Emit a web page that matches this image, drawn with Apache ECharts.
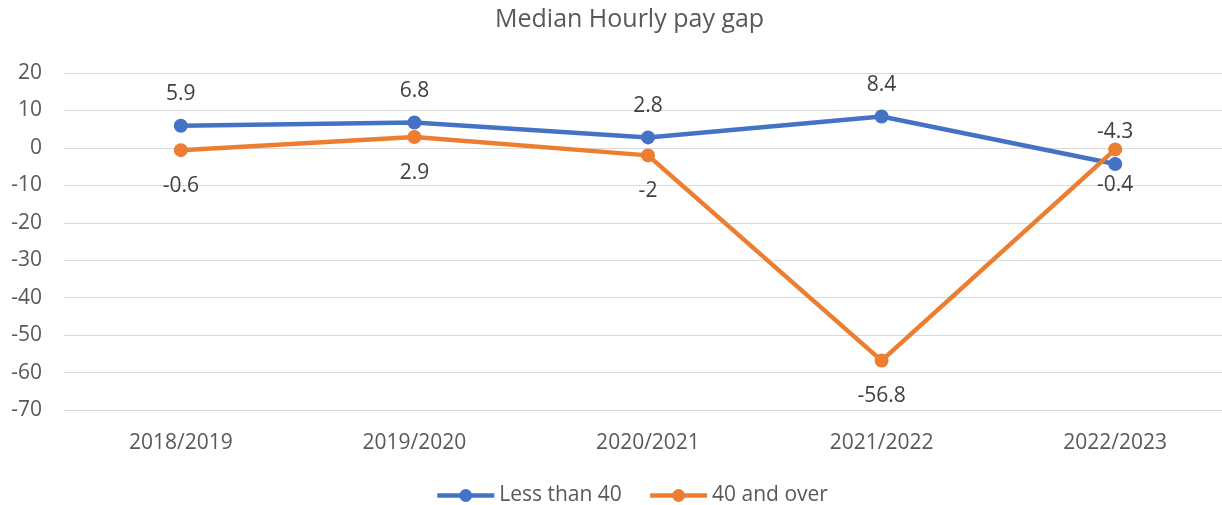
<!DOCTYPE html>
<html>
<head>
<meta charset="utf-8">
<script src="https://cdn.jsdelivr.net/npm/echarts@6/dist/echarts.min.js"></script>
<style>
  html, body { margin: 0; padding: 0; background: #fff; }
  #chart { width: 1222px; height: 505px; }
</style>
</head>
<body>
<div id="chart"></div>
<script>
var years = ["2018/2019", "2019/2020", "2020/2021", "2021/2022", "2022/2023"];
var lessThan40 = [5.9, 6.8, 2.8, 8.4, -4.3];
var fortyAndOver = [-0.6, 2.9, -2, -56.8, -0.4];

var chart = echarts.init(document.getElementById("chart"));
var font = "'Open Sans', sans-serif";

var option = {
  backgroundColor: "#fff",
  animation: false,
  title: {
    text: "Median Hourly pay gap",
    left: 490,
    top: 2,
    textStyle: { color: "#595959", fontSize: 25, fontWeight: "normal", fontFamily: font }
  },
  legend: {
    top: 480,
    left: 430,
    itemWidth: 57,
    itemHeight: 16,
    itemGap: 26,
    lineStyle: { width: 4.5 },
    textStyle: { color: "#595959", fontSize: 21, fontFamily: font },
    data: ["Less than 40", "40 and over"]
  },
  grid: { left: 64, width: 1168, top: 73, height: 337, outerBoundsMode: "none" },
  xAxis: {
    type: "category",
    data: years,
    boundaryGap: true,
    axisLine: { lineStyle: { color: "#d9d9d9", width: 1 } },
    axisTick: { show: false },
    axisLabel: { color: "#595959", fontSize: 21, fontFamily: font, margin: 23 }
  },
  yAxis: {
    type: "value",
    min: -70,
    max: 20,
    interval: 10,
    axisLine: { show: false },
    axisTick: { show: false },
    splitLine: { lineStyle: { color: "#d9d9d9", width: 1 } },
    axisLabel: { color: "#595959", fontSize: 21, fontFamily: font, margin: 22 }
  },
  series: [
    {
      name: "Less than 40",
      type: "line",
      data: lessThan40,
      color: "#4472c4",
      symbol: "circle",
      symbolSize: 14,
      lineStyle: { width: 4.5 },
      label: {
        show: true,
        position: "top",
        distance: 14,
        color: "#404040",
        fontSize: 21,
        fontFamily: font
      }
    },
    {
      name: "40 and over",
      type: "line",
      data: fortyAndOver,
      color: "#ed7d31",
      symbol: "circle",
      symbolSize: 14,
      lineStyle: { width: 4.5 },
      label: {
        show: true,
        position: "bottom",
        distance: 18,
        color: "#404040",
        fontSize: 21,
        fontFamily: font
      }
    }
  ]
};
chart.setOption(option);
</script>
</body>
</html>
